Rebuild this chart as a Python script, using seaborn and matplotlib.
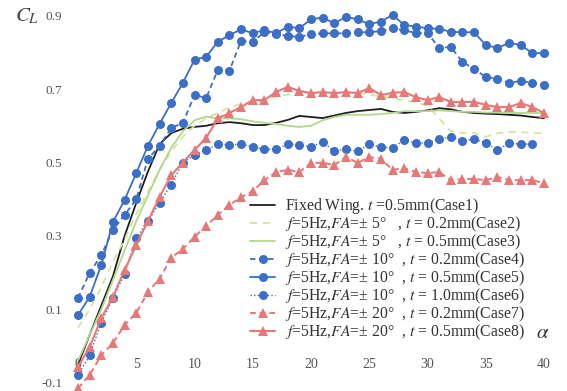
import numpy as np
import pandas as pd
import matplotlib
matplotlib.use("Agg")
import matplotlib.pyplot as plt
import seaborn as sns

# ---------------- data ----------------
alpha = list(range(41))
alpha6 = list(range(40))

case1 = [-0.05, 0.03, 0.11, 0.19, 0.30, 0.39, 0.475, 0.55, 0.58, 0.592, 0.597,
         0.60, 0.607, 0.61, 0.607, 0.602, 0.602, 0.608, 0.616, 0.627, 0.624,
         0.621, 0.628, 0.635, 0.64, 0.643, 0.646, 0.638, 0.635, 0.638, 0.642,
         0.648, 0.645, 0.638, 0.635, 0.633, 0.632, 0.63, 0.628, 0.624, 0.621]
case2 = [0.05, 0.10, 0.16, 0.23, 0.29, 0.36, 0.42, 0.48, 0.53, 0.57, 0.60,
         0.62, 0.635, 0.65, 0.66, 0.665, 0.67, 0.68, 0.685, 0.685, 0.685,
         0.69, 0.69, 0.69, 0.69, 0.685, 0.68, 0.675, 0.67, 0.665, 0.655,
         0.62, 0.585, 0.58, 0.58, 0.57, 0.58, 0.583, 0.583, 0.58, 0.58]
case3 = [-0.04, 0.03, 0.10, 0.18, 0.26, 0.34, 0.41, 0.48, 0.54, 0.585, 0.615,
         0.625, 0.62, 0.62, 0.618, 0.612, 0.608, 0.605, 0.60, 0.597, 0.60,
         0.615, 0.624, 0.63, 0.63, 0.63, 0.632, 0.635, 0.64, 0.64, 0.64,
         0.642, 0.64, 0.638, 0.638, 0.636, 0.636, 0.635, 0.635, 0.635, 0.635]
case4 = [0.131, 0.199, 0.248, 0.316, 0.357, 0.40, 0.51, 0.545, 0.594, 0.608, 0.684,
         0.676, 0.752, 0.750, 0.832, 0.829, 0.855, 0.850, 0.845, 0.842, 0.850,
         0.852, 0.852, 0.852, 0.855, 0.855, 0.858, 0.866, 0.86, 0.853, 0.853,
         0.812, 0.815, 0.774, 0.755, 0.733, 0.728, 0.717, 0.722, 0.717, 0.711]
case5 = [0.084, 0.134, 0.221, 0.338, 0.398, 0.471, 0.545, 0.605, 0.662, 0.717, 0.78,
         0.788, 0.829, 0.847, 0.863, 0.852, 0.861, 0.852, 0.870, 0.866, 0.890,
         0.895, 0.879, 0.897, 0.890, 0.877, 0.884, 0.902, 0.875, 0.87, 0.866,
         0.864, 0.856, 0.855, 0.855, 0.82, 0.812, 0.826, 0.82, 0.798, 0.798]
case6 = [-0.08, -0.025, 0.064, 0.13, 0.197, 0.294, 0.34, 0.39, 0.44, 0.50,
         0.52, 0.534, 0.55, 0.548, 0.55, 0.542, 0.536, 0.536, 0.55, 0.548,
         0.542, 0.556, 0.531, 0.536, 0.531, 0.55, 0.542, 0.54, 0.561, 0.553,
         0.553, 0.564, 0.57, 0.559, 0.564, 0.553, 0.534, 0.553, 0.55, 0.55]
case7 = [-0.115, -0.079, -0.025, 0.008, 0.057, 0.09, 0.147, 0.183, 0.24, 0.265, 0.297,
         0.327, 0.357, 0.385, 0.405, 0.422, 0.452, 0.474, 0.48, 0.474, 0.499,
         0.499, 0.493, 0.515, 0.499, 0.515, 0.51, 0.48, 0.485, 0.474, 0.471,
         0.474, 0.452, 0.455, 0.455, 0.452, 0.46, 0.452, 0.452, 0.452, 0.444]
case8 = [-0.057, -0.003, 0.076, 0.134, 0.207, 0.275, 0.34, 0.406, 0.465, 0.50, 0.534,
         0.567, 0.62, 0.635, 0.651, 0.67, 0.67, 0.692, 0.706, 0.695, 0.689,
         0.692, 0.689, 0.692, 0.689, 0.703, 0.684, 0.69, 0.692, 0.678, 0.670,
         0.678, 0.665, 0.665, 0.665, 0.657, 0.651, 0.651, 0.662, 0.651, 0.635]

labels = [
    r"Fixed Wing. $t$ =0.5mm(Case1)",
    r"$f$=5Hz,$FA$=± 5°   , $t$ = 0.2mm(Case2)",
    r"$f$=5Hz,$FA$=± 5°   , $t$ = 0.5mm(Case3)",
    r"$f$=5Hz,$FA$=± 10°  , $t$ = 0.2mm(Case4)",
    r"$f$=5Hz,$FA$=± 10°  , $t$ = 0.5mm(Case5)",
    r"$f$=5Hz,$FA$=± 10°  , $t$ = 1.0mm(Case6)",
    r"$f$=5Hz,$FA$=± 20°  , $t$ = 0.2mm(Case7)",
    r"$f$=5Hz,$FA$=± 20°  , $t$ = 0.5mm(Case8)",
]
y_ticks = [-0.1, 0.1, 0.3, 0.5, 0.7, 0.9]
x_ticks = [0, 5, 10, 15, 20, 25, 30, 35, 40]

# ---------------- style ----------------
sns.set_theme(style="white")
plt.rcParams["font.family"] = ["Liberation Serif", "DejaVu Serif"]
plt.rcParams["mathtext.fontset"] = "stix"

BLUE = "#3d6ec6"
RED = "#e77878"
BLACK = "#1e1e1e"
PALE = "#d3e5a2"
GREEN = "#b3d78c"

fig = plt.figure(figsize=(5.67, 3.91), dpi=100)
W, H = 567, 391
x0, kx = 78.0, 11.65
y0, ky = 346.0, 367.0
xl, xr = -1, 41
yb, yt = -0.12, 0.93
left = (x0 + xl * kx) / W
right = (x0 + xr * kx) / W
bottom = (H - (y0 - yb * ky)) / H
top = (H - (y0 - yt * ky)) / H
ax = fig.add_axes([left, bottom, right - left, top - bottom])

specs = [
    (alpha, case1, dict(color=BLACK, linestyle="-", linewidth=1.3)),
    (alpha, case2, dict(color=PALE, linestyle=(0, (4, 3)), linewidth=1.3)),
    (alpha, case3, dict(color=GREEN, linestyle="-", linewidth=1.3)),
    (alpha, case4, dict(color=BLUE, linestyle=(0, (3, 2)), linewidth=1.3,
                        marker="o", markersize=6.5, markeredgewidth=0)),
    (alpha, case5, dict(color=BLUE, linestyle="-", linewidth=1.3,
                        marker="o", markersize=6.5, markeredgewidth=0)),
    (alpha6, case6, dict(color=BLUE, linestyle=(0, (1, 1.5)), linewidth=1.0,
                         marker="o", markersize=6.5, markeredgewidth=0)),
    (alpha, case7, dict(color=RED, linestyle=(0, (3, 2)), linewidth=1.4,
                        marker="^", markersize=6.5, markeredgewidth=0)),
    (alpha, case8, dict(color=RED, linestyle="-", linewidth=1.5,
                        marker="^", markersize=6.5, markeredgewidth=0)),
]
for (xs, ys, kw), lab in zip(specs, labels):
    sns.lineplot(x=xs, y=ys, ax=ax, label=lab, **kw)

ax.set_xlim(xl, xr)
ax.set_ylim(yb, yt)
for s in ax.spines.values():
    s.set_visible(False)
ax.spines["bottom"].set_position(("data", 0))
ax.set_xticks(x_ticks)
ax.set_xticklabels([str(v) for v in x_ticks])
ax.set_yticks(y_ticks)
ax.set_yticklabels([f"{v:.1f}" for v in y_ticks])
ax.tick_params(axis="y", length=0, pad=3, labelsize=9.5, labelcolor="#555555")
ax.tick_params(axis="x", length=0, pad=9, labelsize=10, labelcolor="#555555")
ax.grid(False)
ax.set_xlabel("")
ax.set_ylabel("")

fig.text(15 / W, 1 - 16 / H, r"$C_L$", fontsize=15, color="#444444",
         ha="left", va="center")
fig.text(543 / W, 1 - 333 / H, r"$\alpha$", fontsize=15, color="#333333",
         ha="center", va="center")

leg = ax.legend(loc="upper left", bbox_to_anchor=(250 / W, 1 - 196 / H),
                bbox_transform=fig.transFigure, frameon=False, fontsize=11.3,
                handlelength=1.6, handletextpad=0.6, labelspacing=-0.08,
                borderpad=0, borderaxespad=0)
for t in leg.get_texts():
    t.set_color("#333333")

fig.savefig("out.png", dpi=100)
